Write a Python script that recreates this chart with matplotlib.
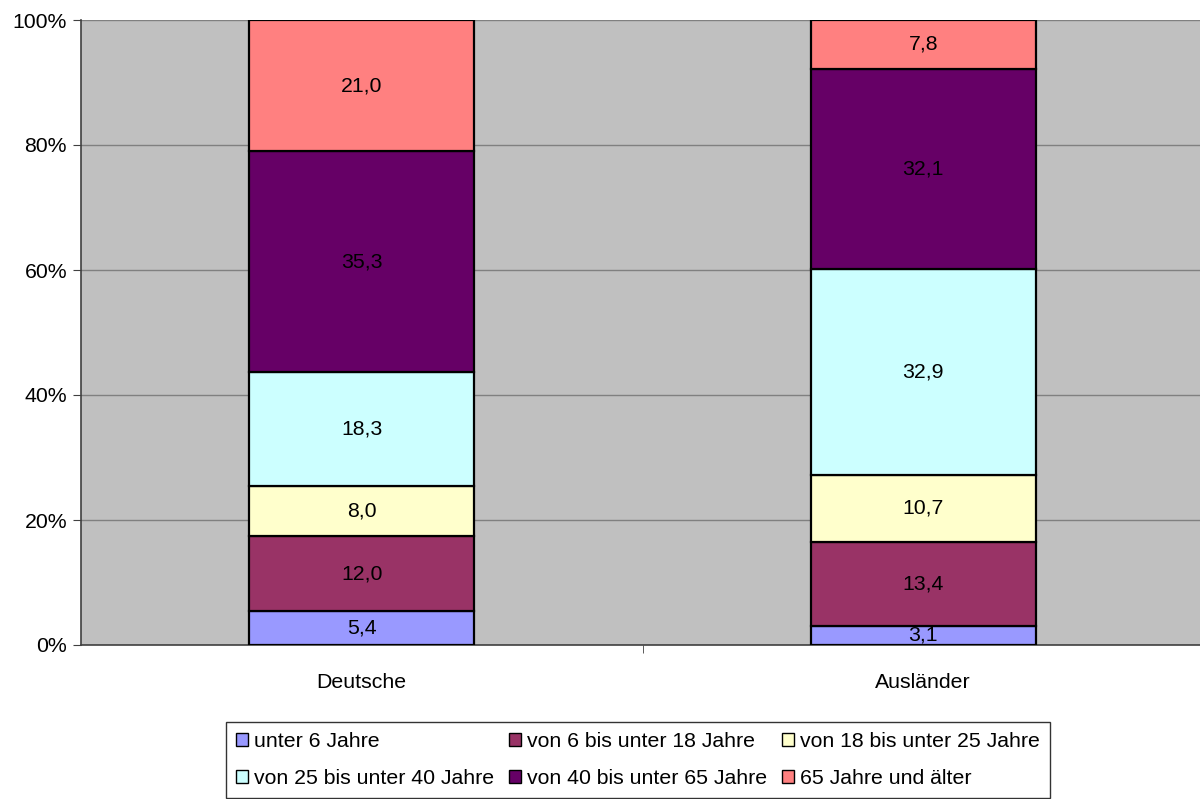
import matplotlib
matplotlib.use("Agg")
import matplotlib.pyplot as plt
from matplotlib.patches import Patch
from matplotlib.ticker import FuncFormatter

plt.rcParams['font.family'] = ['Liberation Sans', 'DejaVu Sans']

categories = ["Deutsche", "Ausländer"]
series_names = ["unter 6 Jahre", "von 6 bis unter 18 Jahre", "von 18 bis unter 25 Jahre",
                "von 25 bis unter 40 Jahre", "von 40 bis unter 65 Jahre", "65 Jahre und älter"]
deutsche = [5.4, 12.0, 8.0, 18.3, 35.3, 21.0]
auslaender = [3.1, 13.4, 10.7, 32.9, 32.1, 7.8]
colors = ["#9999FF", "#993366", "#FFFFCC", "#CCFFFF", "#660066", "#FF8080"]

values = [deutsche, auslaender]
FS = 15.3

W, H = 1200, 799
fig = plt.figure(figsize=(W / 100, H / 100), dpi=100)
ax = fig.add_axes([81 / W, (H - 645) / H, 1123 / W, 625 / H])
ax.set_facecolor("#C0C0C0")

x = list(range(len(categories)))
for i in range(len(series_names)):
    heights = [v[i] for v in values]
    bottoms = [sum(v[:i]) for v in values]
    ax.bar(x, heights, bottom=bottoms, width=0.4, color=colors[i],
           edgecolor="black", linewidth=1.6, zorder=3, label=series_names[i])
    for xi, h, b in zip(x, heights, bottoms):
        ax.text(xi, b + h / 2, f"{h:.1f}".replace(".", ","), ha="center", va="center",
                fontsize=FS, color="black", zorder=4)

ax.set_xlim(-0.5, 1.5)
ax.set_ylim(0, 100)
ax.set_yticks([0, 20, 40, 60, 80, 100])
ax.yaxis.set_major_formatter(FuncFormatter(lambda v, p: f"{int(v)}%"))
ax.yaxis.grid(True, color="#808080", linewidth=1, zorder=1)
ax.set_xticks(x)
ax.set_xticklabels(categories)
ax.set_xticks([0.5], minor=True)
ax.tick_params(axis="x", which="major", length=0, pad=20, labelsize=FS)
ax.tick_params(axis="x", which="minor", length=6, color="#404040")
ax.tick_params(axis="y", length=6, color="#404040", labelsize=FS, pad=4)

for s in ["top", "right"]:
    ax.spines[s].set_visible(False)
ax.spines["left"].set_color("#404040")
ax.spines["bottom"].set_color("#404040")
ax.spines["left"].set_linewidth(1.2)
ax.spines["bottom"].set_linewidth(1.2)

handles = [Patch(facecolor=c, edgecolor="black", linewidth=1) for c in colors]
order = [0, 3, 1, 4, 2, 5]
leg = fig.legend([handles[k] for k in order], [series_names[k] for k in order],
                 ncol=3, loc="center", bbox_to_anchor=(638 / W, (H - 760) / H),
                 frameon=True, fancybox=False, edgecolor="black", fontsize=FS,
                 handlelength=0.55, handleheight=0.55, handletextpad=0.3,
                 columnspacing=0.7, labelspacing=0.85, borderpad=0.45, borderaxespad=0)
leg.get_frame().set_linewidth(1.0)

fig.savefig("out.png", dpi=100, facecolor="white")
